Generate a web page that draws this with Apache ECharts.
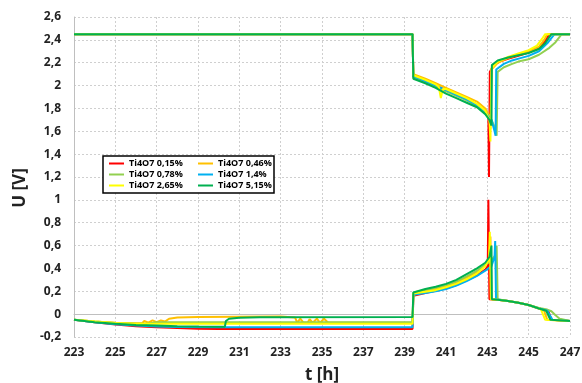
<!DOCTYPE html>
<html>
<head>
<meta charset="utf-8">
<script src="https://cdn.jsdelivr.net/npm/echarts@6/dist/echarts.min.js"></script>
<style>html,body{margin:0;padding:0;background:#fff;}#c{width:582px;height:383px;}</style>
</head>
<body>
<div id="c"></div>
<script>
// ---- data ----
const T0 = 223;
const seriesNames = ["Ti4O7 0,15%", "Ti4O7 0,46%", "Ti4O7 0,78%", "Ti4O7 1,4%", "Ti4O7 2,65%", "Ti4O7 5,15%"];
const seriesColors = ["#FF0000", "#FFC000", "#92D050", "#00B0F0", "#FFFF00", "#00B050"];
const xTickLabels = [223, 225, 227, 229, 231, 233, 235, 237, 239, 241, 243, 245, 247];

const redUpper = [[223,2.45],[239.38,2.45],[239.42,2.08],[240,2.04],[240.5,2.0],[241,1.96],[241.5,1.92],[242,1.88],[242.5,1.83],[242.9,1.77],[243.05,1.72],[243.08,1.2],[243.12,2.12],[243.3,2.18],[243.6,2.21],[244,2.235],[244.5,2.26],[245,2.29],[245.5,2.33],[245.8,2.39],[246.0,2.45],[247,2.45]];
const orangeUpper = [[223,2.45],[239.38,2.45],[239.42,2.1],[240,2.06],[240.5,2.02],[241,1.98],[241.5,1.94],[242,1.9],[242.5,1.86],[242.9,1.8],[243.1,1.73],[243.15,1.62],[243.2,2.14],[243.5,2.2],[244,2.24],[244.5,2.27],[245,2.30],[245.5,2.34],[245.75,2.4],[245.9,2.45],[247,2.45]];
const lgreenUpper = [[223,2.45],[239.38,2.45],[239.42,2.07],[240,2.03],[240.5,1.99],[241,1.95],[241.5,1.91],[242,1.87],[242.5,1.82],[242.9,1.76],[243.2,1.7],[243.4,1.62],[243.45,1.56],[243.5,2.12],[243.8,2.16],[244.2,2.19],[244.5,2.21],[245,2.23],[245.5,2.27],[246,2.33],[246.3,2.38],[246.6,2.45],[247,2.45]];
const blueUpper = [[223,2.45],[239.38,2.45],[239.42,2.08],[240,2.04],[240.5,2.0],[241,1.96],[241.5,1.92],[242,1.88],[242.5,1.83],[242.9,1.77],[243.2,1.7],[243.35,1.6],[243.4,1.56],[243.43,2.14],[243.8,2.19],[244.2,2.22],[244.6,2.24],[245,2.26],[245.5,2.30],[245.9,2.37],[246.25,2.45],[247,2.45]];
const yellowUpper = [[223,2.45],[239.38,2.45],[239.42,2.09],[240,2.05],[240.5,2.01],[240.65,1.99],[240.75,1.89],[240.85,1.97],[241,1.97],[241.5,1.93],[242,1.89],[242.5,1.84],[242.9,1.78],[243.1,1.7],[243.15,1.51],[243.2,2.15],[243.5,2.21],[244,2.25],[244.5,2.28],[245,2.31],[245.4,2.35],[245.65,2.41],[245.8,2.45],[247,2.45]];
const greenUpper = [[223,2.45],[239.38,2.45],[239.42,2.06],[240,2.02],[240.5,1.98],[241,1.93],[241.5,1.89],[242,1.85],[242.5,1.81],[242.9,1.75],[243.1,1.7],[243.2,1.65],[243.22,2.18],[243.5,2.22],[244,2.245],[244.5,2.265],[245,2.285],[245.5,2.32],[245.8,2.37],[246.1,2.45],[247,2.45]];

const redLower = [[223,-0.05],[224,-0.07],[225,-0.09],[226,-0.105],[227,-0.115],[228,-0.122],[229,-0.127],[230,-0.13],[239.38,-0.13],[239.42,0.16],[240,0.185],[240.5,0.205],[241,0.225],[241.5,0.255],[242,0.295],[242.5,0.34],[242.9,0.39],[243.02,0.42],[243.05,1.0],[243.1,0.13],[243.5,0.125],[244,0.115],[244.5,0.1],[245,0.08],[245.5,0.05],[245.95,0.03],[246.1,-0.05],[247,-0.06]];
const orangeLower = [[223,-0.05],[224,-0.065],[225,-0.075],[226,-0.08],[226.3,-0.08],[226.4,-0.06],[226.6,-0.075],[226.8,-0.055],[227.0,-0.07],[227.2,-0.055],[227.4,-0.065],[227.6,-0.04],[228,-0.03],[229,-0.025],[233,-0.02],[233.7,-0.03],[233.8,-0.075],[233.95,-0.04],[234.1,-0.075],[234.3,-0.075],[234.4,-0.045],[234.55,-0.075],[234.75,-0.04],[234.9,-0.075],[235.1,-0.04],[235.3,-0.075],[239.38,-0.075],[239.42,0.17],[240,0.2],[240.5,0.22],[241,0.245],[241.5,0.275],[242,0.32],[242.5,0.37],[242.9,0.43],[243.1,0.48],[243.15,0.68],[243.2,0.13],[243.5,0.125],[244,0.115],[244.5,0.1],[245,0.08],[245.5,0.05],[245.75,0.03],[245.9,-0.05],[247,-0.06]];
const lgreenLower = [[223,-0.05],[224,-0.065],[225,-0.078],[226,-0.085],[226.5,-0.085],[227,-0.07],[239.38,-0.07],[239.42,0.19],[240,0.21],[240.5,0.23],[241,0.255],[241.5,0.285],[242,0.33],[242.5,0.38],[242.9,0.43],[243.2,0.47],[243.4,0.52],[243.45,0.6],[243.5,0.13],[244,0.115],[244.5,0.1],[245,0.08],[245.5,0.055],[245.9,0.04],[246.1,0.025],[246.3,-0.01],[246.5,-0.04],[247,-0.06]];
const blueLower = [[223,-0.05],[224,-0.07],[225,-0.088],[226,-0.1],[227,-0.108],[228,-0.112],[230,-0.115],[239.38,-0.115],[239.42,0.17],[240,0.185],[240.5,0.2],[241,0.22],[241.5,0.25],[242,0.29],[242.5,0.335],[242.9,0.38],[243.2,0.42],[243.35,0.5],[243.38,0.64],[243.42,0.13],[244,0.115],[244.5,0.1],[245,0.08],[245.5,0.05],[245.9,0.03],[246.15,-0.05],[247,-0.06]];
const yellowLower = [[223,-0.05],[224,-0.065],[225,-0.078],[226,-0.083],[228,-0.085],[239.38,-0.085],[239.42,0.18],[240,0.195],[240.5,0.21],[241,0.235],[241.5,0.265],[242,0.305],[242.5,0.355],[242.9,0.42],[243.08,0.48],[243.12,0.72],[243.17,0.13],[243.5,0.125],[244,0.115],[244.5,0.1],[245,0.08],[245.5,0.05],[245.6,0.04],[245.8,-0.05],[247,-0.06]];
const greenLower = [[223,-0.05],[224,-0.07],[225,-0.085],[226,-0.095],[227,-0.1],[228,-0.105],[229,-0.108],[230.3,-0.11],[230.35,-0.06],[230.5,-0.04],[231,-0.032],[232,-0.028],[239.38,-0.025],[239.42,0.19],[240,0.22],[240.5,0.24],[241,0.265],[241.5,0.3],[242,0.35],[242.5,0.4],[242.9,0.45],[243.1,0.5],[243.2,0.6],[243.22,0.13],[243.5,0.125],[244,0.115],[244.5,0.1],[245,0.08],[245.5,0.05],[245.85,0.03],[246.05,-0.05],[247,-0.06]];

const upperTraces = [redUpper, orangeUpper, lgreenUpper, blueUpper, yellowUpper, greenUpper];
const lowerTraces = [redLower, orangeLower, lgreenLower, blueLower, yellowLower, greenLower];

// ---- chart ----
const FONT = "'Open Sans', 'Liberation Sans', sans-serif";
const shift = arr => arr.map(p => [p[0] - T0, p[1]]);
const series = [];
for (let i = 0; i < seriesNames.length; i++) {
  [upperTraces[i], lowerTraces[i]].forEach(tr => {
    series.push({
      name: seriesNames[i], type: 'line', data: shift(tr), showSymbol: false,
      color: seriesColors[i], lineStyle: { width: 2, color: seriesColors[i] },
      animation: false, z: 2
    });
  });
}
const legendBase = {
  orient: 'vertical', itemWidth: 15, itemHeight: 2, icon: 'rect', itemGap: 0, padding: 0, z: 5,
  textStyle: { fontSize: 9, fontWeight: 'bold', lineHeight: 11, fontFamily: FONT, color: '#000' }
};
const chart = echarts.init(document.getElementById('c'), null, { renderer: 'canvas' });
chart.setOption({
  animation: false,
  backgroundColor: '#fff',
  grid: { left: 74, right: 12, top: 17, bottom: 46, containLabel: false, outerBoundsMode: 'none' },
  xAxis: {
    type: 'value', min: 0, max: 24, interval: 2,
    axisLabel: { formatter: v => String(Math.round(v + T0)), fontSize: 12, fontWeight: 'bold', color: '#222', fontFamily: FONT, margin: 10 },
    axisLine: { show: true, lineStyle: { color: '#bfbfbf', width: 1 } },
    axisTick: { show: false },
    splitLine: { show: true, lineStyle: { color: '#cfcfcf', type: [2, 2], width: 1 } },
    name: 't [h]', nameLocation: 'middle', nameGap: 30,
    nameTextStyle: { fontSize: 17, fontWeight: 'bold', color: '#222', fontFamily: FONT }
  },
  yAxis: {
    type: 'value', min: -0.2, max: 2.6, interval: 0.2,
    axisLabel: { formatter: v => String(Math.round(v * 10) / 10).replace('.', ','), fontSize: 12, fontWeight: 'bold', color: '#222', fontFamily: FONT, margin: 13 },
    axisLine: { show: true, lineStyle: { color: '#bfbfbf', width: 1 } },
    axisTick: { show: false },
    splitLine: { show: true, lineStyle: { color: '#cfcfcf', type: [2, 2], width: 1 } },
    name: 'U [V]', nameLocation: 'middle', nameGap: 43, nameRotate: 90,
    nameTextStyle: { fontSize: 17, fontWeight: 'bold', color: '#222', fontFamily: FONT, padding: [0, 22, 0, 0] }
  },
  legend: [
    Object.assign({}, legendBase, { left: 109, top: 158, data: [seriesNames[0], seriesNames[2], seriesNames[4]] }),
    Object.assign({}, legendBase, { left: 198, top: 158, data: [seriesNames[1], seriesNames[3], seriesNames[5]] })
  ],
  graphic: [{
    type: 'rect', z: 3, shape: { x: 103, y: 156, width: 171, height: 37 },
    style: { fill: '#fff', stroke: '#000', lineWidth: 1.5 }
  }],
  series: series
});
</script>
</body>
</html>
